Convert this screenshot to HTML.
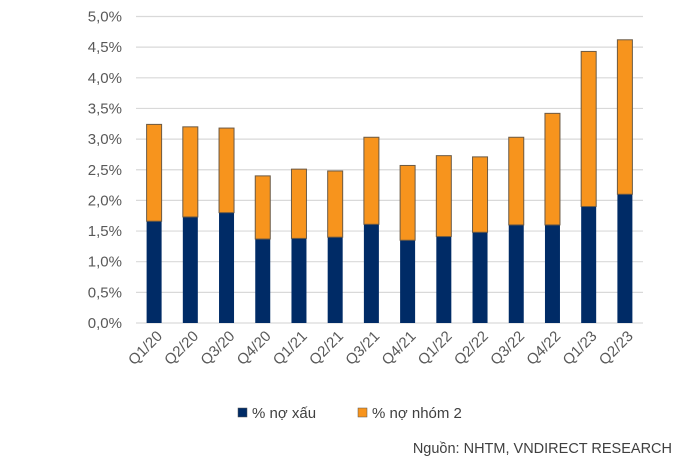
<!DOCTYPE html>
<html><head><meta charset="utf-8"><style>
body{margin:0;background:#fff;}
svg{display:block;font-family:"Liberation Sans",sans-serif;}
</style></head><body>
<svg id="chart" width="700" height="460">
<g id="grid"></g>
<g id="yax"></g>
<g id="bars"></g>
<g id="xax"></g>
<g>
<rect x="238" y="408" width="9" height="9" fill="#002b66" stroke="#555" stroke-width="0.5"/>
<text x="252" y="418" font-size="15" fill="#404040">% nợ xấu</text>
<rect x="358" y="408" width="9" height="9" fill="#f7941d" stroke="#555" stroke-width="0.5"/>
<text x="372" y="418" font-size="15" fill="#404040">% nợ nhóm 2</text>
</g>
<text x="672" y="453" font-size="14.5" fill="#404040" text-anchor="end">Nguồn: NHTM, VNDIRECT RESEARCH</text>
</svg>
<script>
const categories=["Q1/20","Q2/20","Q3/20","Q4/20","Q1/21","Q2/21","Q3/21","Q4/21","Q1/22","Q2/22","Q3/22","Q4/22","Q1/23","Q2/23"];
const badDebt=[1.66,1.73,1.80,1.37,1.38,1.40,1.61,1.35,1.41,1.48,1.60,1.60,1.90,2.10];
const group2=[1.58,1.47,1.38,1.03,1.13,1.08,1.42,1.22,1.32,1.23,1.43,1.82,2.53,2.52];
const yTicks=[0,0.5,1,1.5,2,2.5,3,3.5,4,4.5,5];
const NS="http://www.w3.org/2000/svg";
const x0=136,x1=643,yBase=323,yTop=16.5,yMax=5;
const step=(x1-x0)/categories.length,bw=15;
const y=v=>yBase-(v/yMax)*(yBase-yTop);
const xc=i=>x0+step*(i+0.5);
function mk(t,a,p){const e=document.createElementNS(NS,t);for(const k in a)e.setAttribute(k,a[k]);p.appendChild(e);return e;}
const grid=document.getElementById('grid'),yax=document.getElementById('yax'),bars=document.getElementById('bars'),xax=document.getElementById('xax');
yTicks.forEach(v=>{
 const l=mk('line',{x1:x0,x2:x1,y1:y(v),y2:y(v),stroke:'#d9d9d9','stroke-width':1.2},grid);
 
 
 const t=mk('text',{x:122,y:y(v)+5,'text-anchor':'end','font-size':15,fill:'#595959'},yax);
 t.textContent=v.toFixed(1).replace('.',',')+'%';
 
 
});
categories.forEach((c,i)=>{
 const cx=xc(i);
 const b=mk('rect',{x:cx-bw/2,y:y(badDebt[i]),width:bw,height:y(0)-y(badDebt[i]),fill:'#002b66'},bars);
 
 
 const g=mk('rect',{x:cx-bw/2,y:y(badDebt[i]+group2[i]),width:bw,height:y(badDebt[i])-y(badDebt[i]+group2[i]),fill:'#f7941d',stroke:'#6b5a45','stroke-width':1},bars);
 
 
 const t=mk('text',{x:cx+9,y:337,'text-anchor':'end','font-size':15,fill:'#595959',transform:`rotate(-45 ${cx+9} 337)`},xax);
 t.textContent=c;
 
 
});
</script>
</body></html>
